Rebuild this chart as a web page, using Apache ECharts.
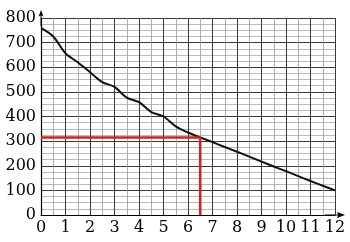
<!DOCTYPE html>
<html>
<head>
<meta charset="utf-8">
<script src="https://cdn.jsdelivr.net/npm/echarts@6/dist/echarts.min.js"></script>
<style>html,body{margin:0;padding:0;background:#fff}#c{width:350px;height:242px}</style>
</head>
<body>
<div id="c"></div>
<script>
// Curve samples
const curveX = [0, 0.5, 1, 1.5, 2, 2.5, 3, 3.5, 4, 4.5, 5, 5.5, 6, 6.5, 7, 7.5, 8, 8.5, 9, 9.5, 10, 10.5, 11, 11.5, 12];
const curveY = [760, 725, 657, 620, 580, 540, 520, 477, 458, 418, 400, 360, 335, 315, 296, 276, 257, 237, 217, 197, 178, 158, 138, 119, 100];
// Red guide line (reading at x = 6.5)
const guideX = [0, 6.5, 6.5];
const guideY = [315, 315, 0];
const xTicks = [0,1,2,3,4,5,6,7,8,9,10,11,12];
const yTicks = [0,100,200,300,400,500,600,700,800];

const font = 'DejaVu Serif';
const arrowPath = 'path://M3,0 L6,8 L3.6,7 L3.6,20 L2.4,20 L2.4,7 L0,8 Z';

const chart = echarts.init(document.getElementById('c'), null, {renderer: 'canvas'});
chart.setOption({
  animation: false,
  backgroundColor: '#fff',
  grid: {left: 41, right: 15, top: 18, bottom: 27, containLabel: false},
  xAxis: {
    type: 'value', min: 0, max: 12, interval: 1,
    axisLine: {show: true, onZero: false, lineStyle: {color: '#000', width: 1.2},
      symbol: ['none', arrowPath], symbolSize: [6, 22]},
    axisTick: {show: false},
    minorTick: {show: false, splitNumber: 2},
    axisLabel: {color: '#000', fontFamily: font, fontSize: 16, margin: 5,
      formatter: v => xTicks.includes(v) ? String(v) : ''},
    splitLine: {show: true, lineStyle: {color: '#3a3a3a', width: 1}},
    minorSplitLine: {show: true, lineStyle: {color: '#999', width: 0.8}}
  },
  yAxis: {
    type: 'value', min: 0, max: 800, interval: 100,
    axisLine: {show: true, onZero: false, lineStyle: {color: '#000', width: 1.2},
      symbol: ['none', arrowPath], symbolSize: [6, 16]},
    axisTick: {show: false},
    minorTick: {show: false, splitNumber: 4},
    axisLabel: {color: '#000', fontFamily: font, fontSize: 16, margin: 5,
      formatter: v => yTicks.includes(v) ? String(v) : ''},
    splitLine: {show: true, lineStyle: {color: '#3a3a3a', width: 1}},
    minorSplitLine: {show: true, lineStyle: {color: '#aaa', width: 0.8}}
  },
  series: [
    {
      type: 'line', data: curveX.map((x, i) => [x, curveY[i]]),
      smooth: 0.3, symbol: 'none',
      lineStyle: {color: '#111', width: 2}, z: 3
    },
    {
      type: 'line', data: guideX.map((x, i) => [x, guideY[i]]),
      symbol: 'none',
      lineStyle: {color: '#d81e1e', width: 2.5}, z: 4
    }
  ]
});
</script>
</body>
</html>
